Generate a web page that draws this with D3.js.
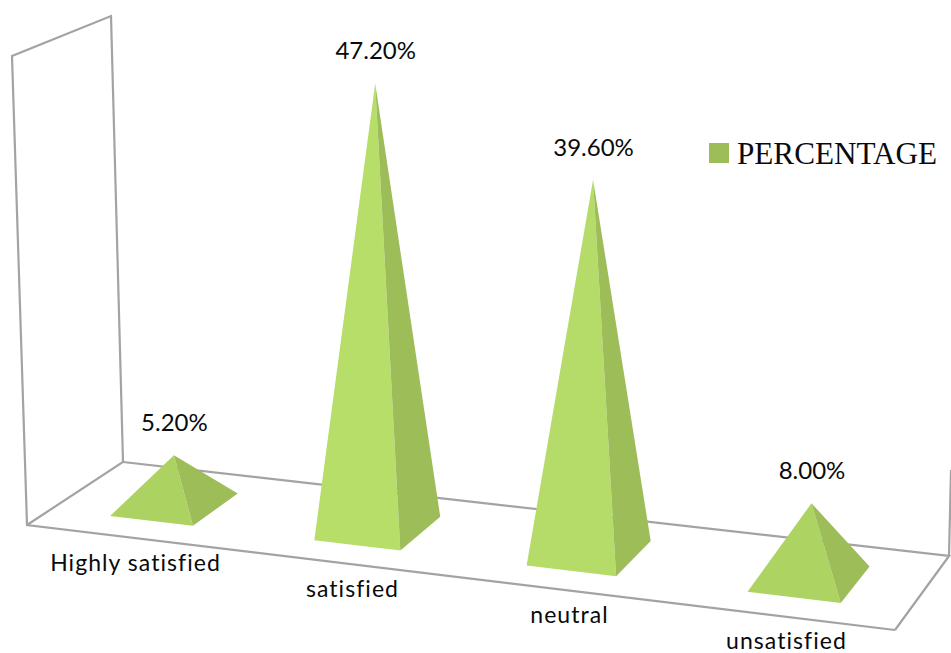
<!DOCTYPE html>
<html><head><meta charset="utf-8">
<script src="https://cdnjs.cloudflare.com/ajax/libs/d3/7.8.5/d3.min.js"></script>
<style>html,body{margin:0;padding:0;background:#fff}svg{display:block}</style>
</head><body><svg id="c" width="951" height="653"></svg>
<script>
const categories = ["Highly satisfied", "satisfied", "neutral", "unsatisfied"];
const values = [5.2, 47.2, 39.6, 8.0];
const valueLabels = ["5.20%", "47.20%", "39.60%", "8.00%"];
const seriesName = "PERCENTAGE";

const svg = d3.select("#c");

// floor corners on screen -> homography of the unit floor square
const P00=[27,525],P10=[895,630],P11=[949,556],P01=[123,462];
function homography(){
  const dx1=P10[0]-P11[0],dx2=P01[0]-P11[0],sx=P00[0]-P10[0]+P11[0]-P01[0];
  const dy1=P10[1]-P11[1],dy2=P01[1]-P11[1],sy=P00[1]-P10[1]+P11[1]-P01[1];
  const den=dx1*dy2-dx2*dy1;
  const g=(sx*dy2-dx2*sy)/den,h=(dx1*sy-sx*dy1)/den;
  const a=P10[0]-P00[0]+g*P10[0],b=P01[0]-P00[0]+h*P01[0],c=P00[0];
  const d=P10[1]-P00[1]+g*P10[1],e=P01[1]-P00[1]+h*P01[1],f=P00[1];
  return (u,v)=>{const w=g*u+h*v+1;return [(a*u+b*v+c)/w,(d*u+e*v+f)/w];};
}
const floor = homography();

const u = d3.scaleBand().domain(categories).range([0,1]).paddingInner(0.59).paddingOuter(0.295);
const v = d3.scaleLinear().domain([0,1]).range([0.245,0.745]);
const hScale = d3.scaleLinear().domain([0,50]).range([0,471]);
const labelX = d3.scaleBand().domain(categories).range([P00[0],P10[0]]);
const frontY = d3.scaleLinear().domain([P00[0],P10[0]]).range([P00[1],P10[1]]);
const shade = d3.scaleLinear().domain([0,47.2]).range(["#abd160","#b7de69"]);
const SIDE = "#9dbd59", WALL="#a3a3a3", INK="#0a0a0a";
const XV=470, D=13000;

const line = d3.line();
const wall = svg.append("g").attr("fill","none").attr("stroke",WALL).attr("stroke-width",2.2).attr("stroke-linejoin","miter");
const lift=(p,val)=>{const h=hScale(val);return [p[0]+(p[0]-XV)*h/D,p[1]-h];};
wall.append("path").attr("d",line([P10,P00,[12,56],[111,16],P01,P00]));
wall.append("path").attr("d",line([P01,P11,P10]));
wall.append("path").attr("d",line([P11,[951,470]]));

const g = svg.append("g");
categories.forEach((c,i)=>{
  const u0=u(c),u1=u0+u.bandwidth();
  const FL=floor(u0,v(0)),FR=floor(u1,v(0)),BR=floor(u1,v(1));
  const apex=lift(floor((u0+u1)/2,0.5),values[i]);
  const gi=g.append("g");
  gi.append("path").attr("d",line([FL,FR,apex])+"Z").attr("fill",shade(values[i]));
  gi.append("path").attr("d",line([FR,BR,apex])+"Z").attr("fill",SIDE);
  svg.append("text").attr("x",apex[0]+0.5).attr("y",apex[1]-24).attr("text-anchor","middle")
    .attr("font-family","Lato").attr("font-size",24).attr("fill",INK).text(valueLabels[i]);
  const lx=labelX(c)+labelX.bandwidth()/2;
  svg.append("text").attr("x",lx).attr("y",frontY(lx)+32.5).attr("text-anchor","middle")
    .attr("font-family","Lato").attr("font-size",23).attr("letter-spacing","1.05px").attr("fill",INK).text(c);
});

svg.append("rect").attr("x",709).attr("y",143).attr("width",20).attr("height",20).attr("fill",SIDE);
svg.append("text").attr("x",737).attr("y",164).attr("font-family","Liberation Serif").attr("font-size",32)
  .attr("textLength",200).attr("lengthAdjust","spacingAndGlyphs").attr("fill",INK).text(seriesName);
</script></body></html>
